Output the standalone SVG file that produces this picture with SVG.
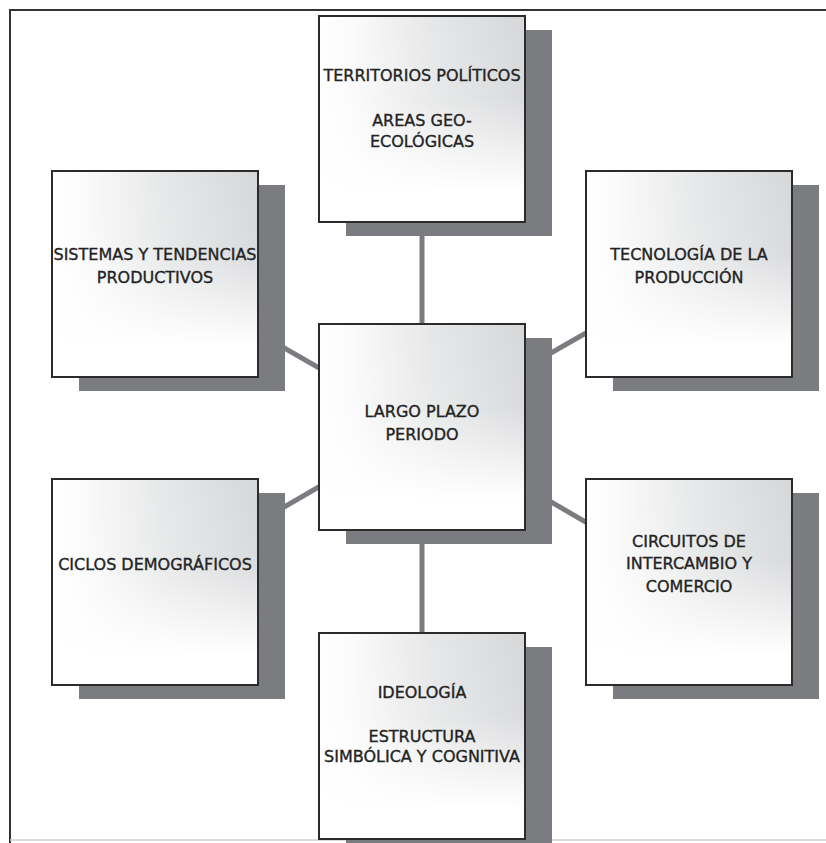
<svg xmlns="http://www.w3.org/2000/svg" width="826" height="843" viewBox="0 0 826 843">
  <defs>
    <linearGradient id="hfill" x1="0" y1="0" x2="1" y2="0">
      <stop offset="0" stop-color="#ffffff"/>
      <stop offset="0.15" stop-color="#fbfbfb"/>
      <stop offset="0.55" stop-color="#e6e7e8"/>
      <stop offset="1" stop-color="#d6d7d9"/>
    </linearGradient>
    <linearGradient id="vfade" x1="0" y1="0" x2="0" y2="1">
      <stop offset="0" stop-color="#ffffff" stop-opacity="0"/>
      <stop offset="0.4" stop-color="#ffffff" stop-opacity="0.1"/>
      <stop offset="0.85" stop-color="#ffffff" stop-opacity="1"/>
      <stop offset="1" stop-color="#ffffff" stop-opacity="1"/>
    </linearGradient>
    <style>
      .shadow { fill: #7b7c80; }
      .box { fill: url(#hfill); }
      .fade { fill: url(#vfade); }
      .edge { fill: none; stroke: #2b2b2b; stroke-width: 2; }
      .lbl { font-family: "DejaVu Sans", "Liberation Sans", sans-serif; font-size: 16px; fill: #232323; stroke: #232323; stroke-width: 0.35; text-anchor: middle; }
      .conn { stroke: #7b7c80; stroke-width: 5; fill: none; }
      .frame { stroke: #333333; stroke-width: 2; fill: none; }
    </style>
  </defs>
  <rect x="0" y="0" width="826" height="843" fill="#ffffff"/>
  <g id="frame">
    <path class="frame" d="M10,843 L10,10 L826,10"/>
    <line x1="10" y1="840" x2="826" y2="840" stroke="#d0d0d0" stroke-width="1.5"/>
  </g>
  <g id="connectors">
    <line class="conn" x1="422" y1="119" x2="422" y2="427"/>
    <line class="conn" x1="422" y1="427" x2="422" y2="736"/>
    <line class="conn" x1="155" y1="274" x2="422" y2="427"/>
    <line class="conn" x1="689" y1="274" x2="422" y2="427"/>
    <line class="conn" x1="155" y1="582" x2="422" y2="427"/>
    <line class="conn" x1="689" y1="582" x2="422" y2="427"/>
  </g>
  <g id="node-territorios">
    <rect class="shadow" x="346" y="30" width="206" height="206"/>
    <rect class="box" x="319" y="16" width="206" height="206"/>
    <rect class="fade" x="319" y="16" width="206" height="206"/>
    <rect class="edge" x="319" y="16" width="206" height="206"/>
    <text class="lbl" x="422" y="81">TERRITORIOS POLÍTICOS</text>
    <text class="lbl" x="422" y="126">AREAS GEO-</text>
    <text class="lbl" x="422" y="147">ECOLÓGICAS</text>
  </g>
  <g id="node-sistemas">
    <rect class="shadow" x="79" y="185" width="206" height="206"/>
    <rect class="box" x="52" y="171" width="206" height="206"/>
    <rect class="fade" x="52" y="171" width="206" height="206"/>
    <rect class="edge" x="52" y="171" width="206" height="206"/>
    <text class="lbl" x="155" y="260">SISTEMAS Y TENDENCIAS</text>
    <text class="lbl" x="155" y="283">PRODUCTIVOS</text>
  </g>
  <g id="node-tecnologia">
    <rect class="shadow" x="613" y="185" width="206" height="206"/>
    <rect class="box" x="586" y="171" width="206" height="206"/>
    <rect class="fade" x="586" y="171" width="206" height="206"/>
    <rect class="edge" x="586" y="171" width="206" height="206"/>
    <text class="lbl" x="689" y="260">TECNOLOGÍA DE LA</text>
    <text class="lbl" x="689" y="283">PRODUCCIÓN</text>
  </g>
  <g id="node-largo-plazo">
    <rect class="shadow" x="346" y="338" width="206" height="206"/>
    <rect class="box" x="319" y="324" width="206" height="206"/>
    <rect class="fade" x="319" y="324" width="206" height="206"/>
    <rect class="edge" x="319" y="324" width="206" height="206"/>
    <text class="lbl" x="422" y="417">LARGO PLAZO</text>
    <text class="lbl" x="422" y="440">PERIODO</text>
  </g>
  <g id="node-ciclos">
    <rect class="shadow" x="79" y="493" width="206" height="206"/>
    <rect class="box" x="52" y="479" width="206" height="206"/>
    <rect class="fade" x="52" y="479" width="206" height="206"/>
    <rect class="edge" x="52" y="479" width="206" height="206"/>
    <text class="lbl" x="155" y="570">CICLOS DEMOGRÁFICOS</text>
  </g>
  <g id="node-circuitos">
    <rect class="shadow" x="613" y="493" width="206" height="206"/>
    <rect class="box" x="586" y="479" width="206" height="206"/>
    <rect class="fade" x="586" y="479" width="206" height="206"/>
    <rect class="edge" x="586" y="479" width="206" height="206"/>
    <text class="lbl" x="689" y="547">CIRCUITOS DE</text>
    <text class="lbl" x="689" y="569">INTERCAMBIO Y</text>
    <text class="lbl" x="689" y="592">COMERCIO</text>
  </g>
  <g id="node-ideologia">
    <rect class="shadow" x="346" y="647" width="206" height="206"/>
    <rect class="box" x="319" y="633" width="206" height="206"/>
    <rect class="fade" x="319" y="633" width="206" height="206"/>
    <rect class="edge" x="319" y="633" width="206" height="206"/>
    <text class="lbl" x="422" y="698">IDEOLOGÍA</text>
    <text class="lbl" x="422" y="742">ESTRUCTURA</text>
    <text class="lbl" x="422" y="762">SIMBÓLICA Y COGNITIVA</text>
  </g>
</svg>
